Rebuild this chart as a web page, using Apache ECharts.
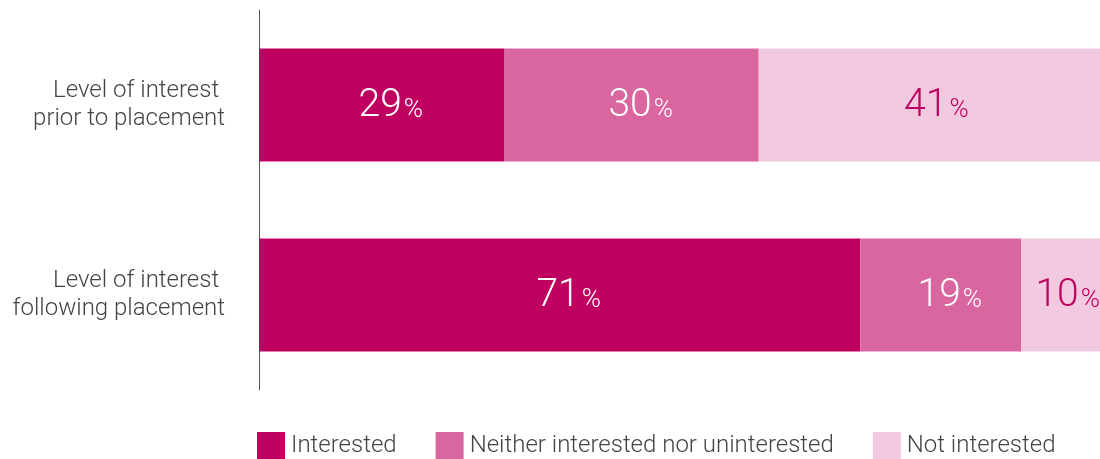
<!DOCTYPE html>
<html><head><meta charset="utf-8">
<script src="https://cdn.jsdelivr.net/npm/echarts@6/dist/echarts.min.js"></script>
<style>html,body{margin:0;padding:0;background:#fff}#c{width:1100px;height:459px}</style>
</head><body><div id="c"></div>
<script>
var categories = ['Level of interest \nprior to placement', 'Level of interest \nfollowing placement'];
var seriesNames = ['Interested', 'Neither interested nor uninterested', 'Not interested'];
var interested = [29, 71];
var neither = [30, 19];
var notInterested = [41, 10];
var colors = ['#c00060', '#d9669f', '#f2c9df'];
var labelColors = ['#ffffff', '#ffffff', '#c00060'];
var labelShift = [9, 9, 4];
var F = 'Roboto';
function mk(name, data, i) {
  return {
    name: name, type: 'bar', stack: 'a', data: data, barWidth: 113,
    itemStyle: { color: colors[i] },
    label: {
      show: true, position: 'inside', offset: [labelShift[i], 1],
      formatter: function (p) { return '{n|' + p.value + '}{p|%}'; },
      rich: {
        n: { fontFamily: F, fontWeight: 300, fontSize: 39, color: labelColors[i] },
        p: { fontFamily: F, fontWeight: 300, fontSize: 26, color: labelColors[i], padding: [9, 0, 0, 2] }
      }
    }
  };
}
var chart = echarts.init(document.getElementById('c'), null, { renderer: 'canvas' });
chart.setOption({
  animation: false,
  grid: { left: 259, top: 10, width: 847, height: 380, containLabel: false, outerBoundsMode: 'none' },
  xAxis: { type: 'value', min: 0, max: 100, show: false },
  yAxis: {
    type: 'category', data: categories, inverse: true,
    axisLine: { show: true, lineStyle: { color: '#555', width: 1 } },
    axisTick: { show: false },
    axisLabel: { fontFamily: F, fontWeight: 300, fontSize: 24, color: '#444', lineHeight: 28, margin: 34, align: 'right' }
  },
  legend: {
    left: 257, top: 432, padding: 0, itemWidth: 28, itemHeight: 28, itemGap: 39,
    icon: 'rect',
    textStyle: { fontFamily: F, fontWeight: 300, fontSize: 24, color: '#444', padding: [0, 0, 0, 1] },
    data: seriesNames
  },
  series: [mk(seriesNames[0], interested, 0), mk(seriesNames[1], neither, 1), mk(seriesNames[2], notInterested, 2)]
});
</script></body></html>
